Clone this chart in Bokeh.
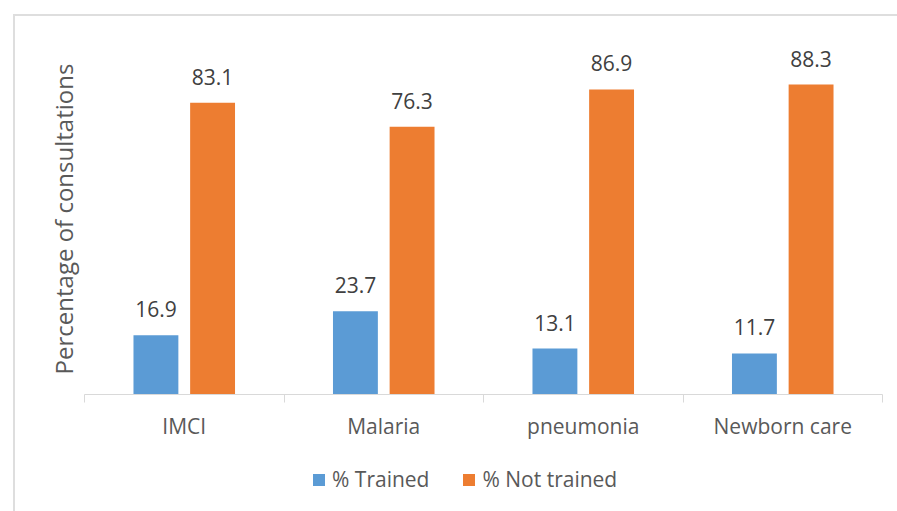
from bokeh.plotting import figure
from bokeh.layouts import column
from bokeh.models import (ColumnDataSource, FixedTicker, LabelSet, Legend, LegendItem,
                          Range1d)
from bokeh.core.properties import value
from bokeh.embed import file_html
from bokeh.resources import INLINE
import numpy as np

categories = ["IMCI", "Malaria", "pneumonia", "Newborn care"]
trained = [16.9, 23.7, 13.1, 11.7]
not_trained = [83.1, 76.3, 86.9, 88.3]
series_names = ["% Trained", "% Not trained"]
colors = ["#5B9BD5", "#ED7D31"]

FONT = "Open Sans"
FS = "21px"
TXT = "#595959"

idx = np.arange(len(categories)) + 0.5
off = 0.142
bw = 0.225

p = figure(width=882, height=434, output_backend="svg", toolbar_location=None,
           x_range=Range1d(0, 4), y_range=Range1d(0, 100),
           min_border_left=69, min_border_right=15, min_border_top=27, min_border_bottom=56)
p.outline_line_color = None
p.xgrid.visible = False
p.ygrid.visible = False
p.background_fill_color = "white"
p.border_fill_color = "white"

src_t = ColumnDataSource(dict(x=idx - off, top=trained, text=[f"{v:.1f}" for v in trained]))
src_n = ColumnDataSource(dict(x=idx + off, top=not_trained, text=[f"{v:.1f}" for v in not_trained]))

r1 = p.vbar(x="x", top="top", width=bw, bottom=0, source=src_t, fill_color=colors[0], line_color=None)
r2 = p.vbar(x="x", top="top", width=bw, bottom=0, source=src_n, fill_color=colors[1], line_color=None)

for s in (src_t, src_n):
    p.add_layout(LabelSet(x="x", y="top", text="text", source=s, y_offset=18,
                          text_align="center", text_baseline="alphabetic",
                          text_font=value(FONT), text_font_size=value(FS),
                          text_color="#404040"))

# x axis
xa = p.xaxis[0]
xa.ticker = FixedTicker(ticks=list(idx), minor_ticks=[0, 1, 2, 3, 4])
xa.major_label_overrides = {float(v): c for v, c in zip(idx, categories)}
xa.major_tick_out = 0
xa.major_tick_in = 0
xa.minor_tick_out = 8
xa.minor_tick_in = 0
xa.minor_tick_line_color = "#d9d9d9"
xa.axis_line_color = "#d9d9d9"
xa.major_label_text_font = FONT
xa.major_label_text_font_size = FS
xa.major_label_text_color = TXT
xa.major_label_standoff = 9

# y axis
ya = p.yaxis[0]
ya.ticker = FixedTicker(ticks=[])
ya.axis_line_color = None
ya.major_tick_line_color = None
ya.minor_tick_line_color = None
ya.major_label_text_font_size = "0px"
ya.axis_label = "Percentage of consultations"
ya.axis_label_text_font = FONT
ya.axis_label_text_font_size = "24px"
ya.axis_label_text_font_style = "normal"
ya.axis_label_text_color = TXT
ya.axis_label_standoff = 5

# legend strip below the chart (proxy glyphs lie outside its visible range)
p2 = figure(width=882, height=61, output_backend="svg", toolbar_location=None,
            x_range=Range1d(0, 1), y_range=Range1d(0, 1),
            x_axis_location=None, y_axis_location=None,
            min_border_left=0, min_border_right=0, min_border_top=0, min_border_bottom=0)
p2.outline_line_color = None
p2.xgrid.visible = False
p2.ygrid.visible = False
p2.border_fill_color = "white"
l1 = p2.vbar(x=[-5], top=[-5], bottom=-6, width=0.1, fill_color=colors[0], line_color=None)
l2 = p2.vbar(x=[-5], top=[-5], bottom=-6, width=0.1, fill_color=colors[1], line_color=None)

legend = Legend(items=[LegendItem(label=series_names[0], renderers=[l1]),
                       LegendItem(label=series_names[1], renderers=[l2])],
                orientation="horizontal", location=(227, 18),
                glyph_width=15, glyph_height=15, label_standoff=6, spacing=32,
                label_text_font=FONT, label_text_font_size=FS, label_text_color=TXT,
                border_line_color=None, background_fill_alpha=0, margin=0, padding=0)
p2.add_layout(legend)

lay = column(p, p2, spacing=0,
             styles={"margin-left": "13px", "margin-top": "14px",
                     "border-left": "2px solid #dedede", "border-top": "2px solid #dedede"})

open("out.html", "w").write(file_html(lay, INLINE))
